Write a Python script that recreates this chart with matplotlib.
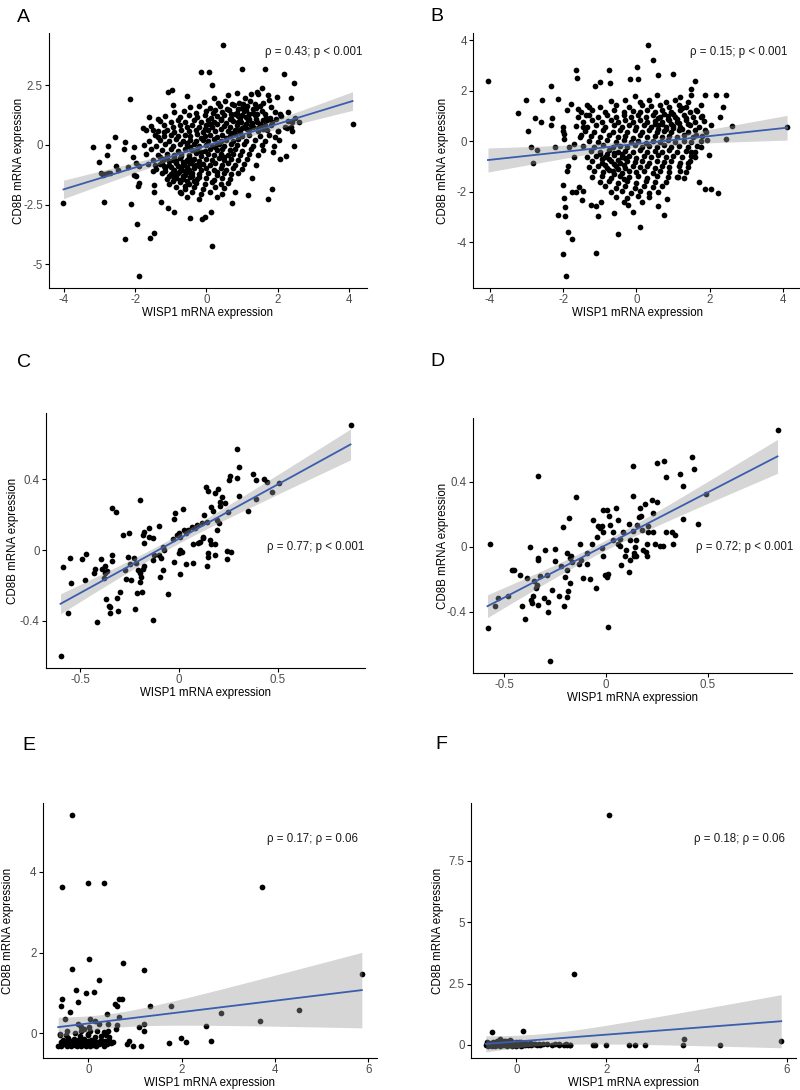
import matplotlib
matplotlib.use('Agg')
import matplotlib.pyplot as plt
import numpy as np

plt.rcParams['font.family'] = ['Liberation Sans', 'DejaVu Sans']
plt.rcParams['axes.unicode_minus'] = False

# ---- data (WISP1, CD8B) ----
a_pts = np.array([
    # outliers / edge
    (0.47, 4.21), (-0.16, 3.07), (0.07, 3.07), (1.0, 3.17), (1.64, 3.18), (2.19, 2.97),
    (2.46, 2.58), (0.15, 2.51), (-1.08, 2.23), (-0.97, 2.3), (-2.13, 1.91), (-0.93, 1.66),
    (2.38, 1.95), (1.97, 2.02), (1.74, 2.09), (1.55, 2.37), (1.41, 2.23), (4.1, 0.88),
    (2.61, 0.98), (2.46, -0.03), (2.23, -0.45), (2.06, -0.6), (1.88, -0.28), (1.9, -0.03),
    (1.85, -1.85), (1.74, -2.26), (1.17, -2.09), (1.28, -1.39), (0.72, -2.44), (0.8, -1.95),
    (0.12, -2.83), (-0.03, -3.0), (-0.12, -3.1), (-0.47, -3.07), (0.16, -4.25), (-0.91, -2.83),
    (-1.08, -2.65), (-1.27, -2.4), (-1.46, -1.98), (-1.46, -1.67), (-1.48, -3.67), (-1.58, -3.9),
    (-1.9, -1.6), (-1.92, -1.74), (-1.95, -3.31), (-2.11, -2.47), (-2.28, -3.95), (-1.9, -5.51),
    (-2.86, -2.37), (-4.01, -2.44), (-3.19, -0.07), (-3.0, -0.7), (-2.75, -0.03), (-2.79, -0.42),
    (-2.56, 0.32), (-2.28, 0.14), (-2.3, -0.17), (-2.54, -0.86), (-2.91, -1.26), (-2.77, -1.19),
    (-2.07, -0.49), (-2.02, -0.07), (-2.04, -1.26), (-1.98, -1.32), (-1.79, 0.7), (-1.62, 1.19),
    (-1.36, 1.09), (-1.5, 0.63), (-1.36, 0.35), (-1.2, 0.56), (2.38, 0.77), (2.4, 0.98),
    (2.49, 1.12), (2.3, 1.39), (2.07, 1.32), (2.25, 0.7), (1.92, 0.35), (2.02, 0.6),
    (-2.96, -1.19), (-2.85, -1.21), (-2.7, -1.18), (-2.49, -1.05), (-2.21, -0.91), (-1.97, -0.77),
    (-1.88, -0.86), (-1.65, -0.8),
    # dense core
    (-0.55, 2.05), (0.22, 1.97), (0.62, 2.08), (1.08, 1.95), (1.46, 2.12), (0.85, 2.2), (1.25, 2.15),
    (-0.08, 1.82), (0.33, 1.75), (0.52, 1.86), (0.92, 1.78), (1.22, 1.85), (1.6, 1.76), (0.72, 1.7),
    (1.75, 1.9),
    (-0.45, 1.58), (-0.2, 1.64), (0.1, 1.55), (0.38, 1.62), (0.58, 1.53), (0.77, 1.66), (1.0, 1.57),
    (1.15, 1.63), (1.38, 1.55), (1.82, 1.6), (0.25, 1.45),
    (-0.9, 1.38), (-0.62, 1.43), (-0.3, 1.35), (0.0, 1.42), (0.18, 1.33), (0.45, 1.4), (0.63, 1.45),
    (0.86, 1.36), (1.06, 1.41), (1.3, 1.34), (1.55, 1.44), (1.92, 1.37),
    (-1.15, 1.22), (-0.75, 1.16), (-0.5, 1.25), (-0.27, 1.18), (-0.05, 1.24), (0.14, 1.15), (0.31, 1.21),
    (0.5, 1.26), (0.7, 1.14), (0.88, 1.23), (1.1, 1.17), (1.36, 1.25), (1.66, 1.15), (2.1, 1.22),
    (0.4, 1.1),
    (-1.3, 1.02), (-1.0, 0.96), (-0.8, 1.05), (-0.6, 0.97), (-0.36, 1.03), (-0.16, 0.95), (0.05, 1.04),
    (0.22, 0.98), (0.4, 1.06), (0.56, 0.94), (0.76, 1.01), (0.96, 0.96), (1.16, 1.05), (1.42, 0.97),
    (1.7, 1.03), (2.3, 0.99), (0.66, 1.1),
    (-1.55, 0.78), (-1.2, 0.84), (-0.95, 0.76), (-0.75, 0.85), (-0.55, 0.77), (-0.4, 0.83), (-0.2, 0.75),
    (0.0, 0.82), (0.15, 0.77), (0.3, 0.86), (0.5, 0.79), (0.65, 0.74), (0.85, 0.83), (1.05, 0.76),
    (1.25, 0.84), (1.5, 0.78), (1.8, 0.82), (2.2, 0.76), (0.1, 0.9), (-0.05, 0.68),
    (-1.7, 0.62), (-1.35, 0.57), (-1.1, 0.63), (-0.9, 0.56), (-0.7, 0.64), (-0.5, 0.58), (-0.3, 0.62),
    (-0.1, 0.55), (0.05, 0.63), (0.25, 0.57), (0.4, 0.65), (0.6, 0.58), (0.8, 0.62), (0.95, 0.55),
    (1.2, 0.63), (1.45, 0.57), (1.7, 0.64), (2.0, 0.58), (2.4, 0.6), (0.7, 0.5),
    (-1.45, 0.42), (-1.2, 0.37), (-1.0, 0.44), (-0.8, 0.36), (-0.6, 0.43), (-0.45, 0.38), (-0.25, 0.45),
    (-0.05, 0.37), (0.1, 0.42), (0.3, 0.35), (0.45, 0.44), (0.65, 0.39), (0.8, 0.45), (1.0, 0.36),
    (1.2, 0.43), (1.5, 0.38), (1.75, 0.42), (-0.15, 0.3), (0.55, 0.3),
    (-1.6, 0.18), (-1.3, 0.23), (-1.05, 0.16), (-0.85, 0.24), (-0.65, 0.17), (-0.45, 0.22), (-0.3, 0.15),
    (-0.1, 0.23), (0.05, 0.17), (0.2, 0.24), (0.4, 0.16), (0.55, 0.22), (0.75, 0.18), (0.9, 0.25),
    (1.1, 0.16), (1.35, 0.21), (1.65, 0.17), (2.05, 0.22), (0.3, 0.1), (-0.55, 0.1),
    (-1.75, 0.02), (-1.4, -0.04), (-1.15, 0.04), (-0.95, -0.03), (-0.75, 0.05), (-0.55, -0.02),
    (-0.35, 0.03), (-0.2, -0.05), (0.0, 0.02), (0.15, -0.03), (0.35, 0.05), (0.5, -0.04), (0.7, 0.03),
    (0.85, -0.02), (1.05, 0.04), (1.3, -0.03), (1.55, 0.02), (0.25, -0.1), (-0.45, -0.1),
    (-1.55, -0.18), (-1.25, -0.23), (-1.0, -0.17), (-0.8, -0.24), (-0.6, -0.16), (-0.4, -0.22),
    (-0.25, -0.15), (-0.05, -0.24), (0.1, -0.17), (0.3, -0.22), (0.45, -0.15), (0.65, -0.23),
    (0.8, -0.18), (1.0, -0.24), (1.25, -0.16), (1.6, -0.21), (-0.15, -0.3),
    (-1.7, -0.38), (-1.35, -0.43), (-1.1, -0.36), (-0.9, -0.44), (-0.7, -0.37), (-0.5, -0.42),
    (-0.3, -0.35), (-0.15, -0.45), (0.05, -0.38), (0.2, -0.43), (0.4, -0.36), (0.6, -0.44),
    (0.75, -0.37), (0.95, -0.42), (1.2, -0.36), (1.45, -0.43), (0.5, -0.5),
    (-1.5, -0.62), (-1.2, -0.57), (-0.95, -0.64), (-0.75, -0.56), (-0.55, -0.63), (-0.35, -0.58),
    (-0.2, -0.65), (0.0, -0.57), (0.15, -0.63), (0.35, -0.56), (0.5, -0.64), (0.7, -0.58),
    (0.9, -0.62), (1.15, -0.57), (-0.65, -0.7),
    (-1.3, -0.78), (-1.05, -0.84), (-0.85, -0.77), (-0.65, -0.85), (-0.45, -0.76), (-0.3, -0.83),
    (-0.1, -0.78), (0.1, -0.85), (0.25, -0.77), (0.45, -0.82), (0.6, -0.76), (0.8, -0.84),
    (1.05, -0.78), (1.4, -0.83), (-0.2, -0.9),
    (-1.4, -1.02), (-1.15, -0.96), (-0.9, -1.04), (-0.7, -0.97), (-0.5, -1.05), (-0.35, -0.98),
    (-0.15, -1.03), (0.0, -0.96), (0.2, -1.04), (0.4, -0.97), (0.55, -1.05), (0.75, -0.98),
    (1.0, -1.02), (-0.6, -1.1), (0.3, -1.12),
    (-1.25, -1.18), (-1.0, -1.23), (-0.8, -1.17), (-0.6, -1.24), (-0.4, -1.16), (-0.2, -1.22),
    (0.05, -1.17), (0.3, -1.25), (0.5, -1.18), (0.7, -1.23), (0.9, -1.16), (-0.95, -1.32),
    (-1.1, -1.42), (-0.85, -1.37), (-0.65, -1.44), (-0.45, -1.36), (-0.25, -1.43), (0.0, -1.38),
    (0.2, -1.45), (0.45, -1.37), (0.65, -1.42), (-0.55, -1.52),
    (-1.05, -1.62), (-0.75, -1.57), (-0.5, -1.64), (-0.3, -1.58), (-0.05, -1.65), (0.15, -1.57),
    (0.4, -1.63), (0.6, -1.58),
    (-0.85, -1.78), (-0.6, -1.84), (-0.35, -1.77), (-0.1, -1.83), (0.25, -1.78), (0.5, -1.82),
    (-0.75, -1.95),
    (-0.7, -2.02), (-0.4, -1.97), (-0.15, -2.04), (0.1, -1.98), (0.45, -2.05),
    (-0.55, -2.2), (-0.2, -2.25), (0.3, -2.18),
    # denser upper-right / lower-left of the core
    (0.85, 0.65), (1.0, 0.72), (1.15, 0.68), (1.3, 0.75), (1.45, 0.7), (1.6, 0.68), (0.9, 0.95),
    (1.1, 0.88), (1.28, 0.92), (1.5, 0.9), (1.65, 0.85), (0.95, 1.12), (1.2, 1.08), (1.4, 1.1),
    (1.58, 1.05), (1.78, 1.12), (0.8, 1.3), (1.0, 1.27), (1.2, 1.32), (1.42, 1.28), (1.65, 1.3),
    (0.9, 1.5), (1.1, 1.48), (1.3, 1.5), (1.5, 1.62), (1.02, 1.7), (1.35, 1.72), (0.7, 1.28),
    (1.85, 0.95), (1.95, 1.1),
    (-1.3, -0.5), (-1.1, -0.52), (-0.9, -0.5), (-0.7, -0.48), (-0.5, -0.5), (-1.25, -0.7),
    (-1.05, -0.68), (-0.85, -0.66), (-0.6, -0.72), (-0.4, -0.68), (-1.2, -0.9), (-1.0, -0.92),
    (-0.8, -0.88), (-0.55, -0.93), (-0.35, -0.88), (-1.15, -1.1), (-0.95, -1.12), (-0.75, -1.08),
    (-0.5, -1.13), (-1.05, -1.3), (-0.85, -1.28), (-0.65, -1.3), (-0.4, -1.3), (-0.95, -1.5),
    (-0.75, -1.48), (-0.35, -1.5), (-0.6, -1.7), (-1.45, -0.85), (-1.5, -1.1), (-0.2, -1.35),
])

b_pts = np.array([
    # outliers / edge
    (-4.05, 2.39), (0.33, 3.83), (0.46, 3.21), (0.02, 2.95), (0.05, 2.48), (-0.17, 2.45),
    (0.6, 2.62), (0.99, 2.66), (-0.74, 2.84), (-0.72, 2.29), (-0.99, 2.35), (-1.13, 2.18),
    (-1.65, 2.81), (-1.63, 2.52), (-2.32, 2.18), (-2.15, 1.67), (-2.58, 1.63), (-3.02, 1.63),
    (-3.22, 1.13), (-2.95, 0.4), (-2.77, 0.94), (-2.61, 0.75), (-2.31, 0.93), (-2.33, 0.64),
    (-2.01, 0.57), (-2.0, 0.4), (-2.88, -0.22), (-2.7, -0.35), (-2.81, -0.85), (-2.22, -0.22),
    (-1.9, -1.16), (-1.99, -1.74), (-1.97, -2.23), (-1.95, -2.59), (-1.95, -2.94), (-2.15, -2.92),
    (-2.01, -4.47), (-1.92, -5.35), (-1.86, -3.6), (-1.76, -3.85), (-1.77, -2.0), (-1.65, -2.0),
    (-1.56, -1.8), (-1.47, -1.97), (-1.49, -2.32), (-1.24, -2.52), (-1.1, -2.56), (-1.06, -2.96),
    (-1.1, -4.41), (-0.97, -2.39), (-0.51, -3.67), (-0.6, -2.85), (-0.1, -2.81), (-0.24, -2.52),
    (0.09, -3.4), (0.6, -2.55), (0.74, -2.92), (0.83, -2.3), (1.71, -1.6), (1.86, -1.9),
    (2.04, -1.9), (2.22, -2.03), (1.99, -0.55), (4.11, 0.55), (2.61, 0.6), (2.45, 0.11),
    (2.45, 1.83), (2.17, 1.83), (1.88, 1.83), (1.61, 2.38), (1.49, 2.09), (2.36, 1.36),
    (2.29, 0.97), (2.04, 0.64), (1.63, 1.23), (1.77, 0.97), (1.86, 0.44), (1.93, 0.05),
    (1.77, -0.22), (1.59, -0.61), (1.4, -0.87), (1.36, -1.2), (1.13, -1.4), (1.31, -1.46),
    (1.63, 0.25), (1.49, -0.42), (-1.97, 0.28), (-1.98, 0.08), (-1.83, -0.22), (-1.7, -0.09),
    (-1.51, 0.26), (-1.47, 0.57), (-1.38, 1.04), (-1.29, 1.36), (-1.78, 1.48), (-1.6, 1.29),
    (-1.9, 1.23), (-1.87, -0.98), (-1.7, -0.61),
    # dense core
    (-0.05, 1.78), (0.55, 1.82), (1.2, 1.76), (1.5, 1.85),
    (-0.7, 1.58), (-0.3, 1.63), (0.1, 1.55), (0.35, 1.65), (0.8, 1.57), (1.05, 1.62), (1.4, 1.55),
    (-1.35, 1.42), (-1.0, 1.37), (-0.55, 1.44), (-0.2, 1.36), (0.15, 1.43), (0.4, 1.38), (0.65, 1.45),
    (0.9, 1.36), (1.15, 1.42), (1.35, 1.37), (1.75, 1.43),
    (-1.5, 1.18), (-1.2, 1.23), (-0.85, 1.16), (-0.6, 1.24), (-0.35, 1.17), (-0.1, 1.22), (0.1, 1.15),
    (0.3, 1.24), (0.5, 1.18), (0.7, 1.23), (0.95, 1.16), (1.2, 1.24), (1.45, 1.17), (1.65, 1.22),
    (-1.6, 0.98), (-1.3, 1.03), (-1.05, 0.96), (-0.8, 1.04), (-0.55, 0.97), (-0.35, 1.05), (-0.15, 0.95),
    (0.05, 1.03), (0.25, 0.97), (0.45, 1.04), (0.65, 0.96), (0.85, 1.02), (1.05, 0.95), (1.3, 1.04),
    (1.55, 0.97), (1.8, 1.02),
    (-1.45, 0.78), (-1.2, 0.84), (-0.95, 0.77), (-0.7, 0.85), (-0.5, 0.76), (-0.3, 0.83), (-0.1, 0.77),
    (0.1, 0.84), (0.3, 0.76), (0.5, 0.82), (0.7, 0.78), (0.9, 0.85), (1.1, 0.77), (1.35, 0.83),
    (1.6, 0.76), (1.85, 0.82),
    (-1.65, 0.62), (-1.35, 0.57), (-1.1, 0.64), (-0.85, 0.56), (-0.6, 0.63), (-0.4, 0.58), (-0.2, 0.64),
    (0.0, 0.56), (0.2, 0.63), (0.4, 0.57), (0.6, 0.65), (0.8, 0.58), (1.0, 0.62), (1.2, 0.56),
    (1.45, 0.63), (1.7, 0.57), (0.5, 0.7),
    (-1.4, 0.42), (-1.15, 0.36), (-0.9, 0.44), (-0.65, 0.37), (-0.45, 0.43), (-0.25, 0.36), (-0.05, 0.45),
    (0.15, 0.38), (0.35, 0.44), (0.55, 0.36), (0.75, 0.42), (0.95, 0.37), (1.15, 0.45), (1.4, 0.38),
    (1.6, 0.43), (1.9, 0.37),
    (-1.55, 0.18), (-1.25, 0.23), (-1.0, 0.16), (-0.75, 0.24), (-0.5, 0.17), (-0.3, 0.22), (-0.1, 0.15),
    (0.1, 0.24), (0.3, 0.17), (0.5, 0.23), (0.7, 0.16), (0.9, 0.22), (1.1, 0.18), (1.3, 0.25),
    (1.55, 0.17), (1.8, 0.22),
    (-1.3, 0.03), (-1.05, -0.04), (-0.8, 0.04), (-0.55, -0.03), (-0.35, 0.05), (-0.15, -0.02),
    (0.05, 0.03), (0.25, -0.05), (0.45, 0.02), (0.65, -0.03), (0.85, 0.04), (1.05, -0.02),
    (1.3, 0.03), (1.5, -0.04), (1.75, 0.02),
    (-1.45, -0.18), (-1.15, -0.23), (-0.9, -0.16), (-0.65, -0.24), (-0.45, -0.17), (-0.25, -0.22),
    (-0.05, -0.15), (0.15, -0.24), (0.35, -0.17), (0.55, -0.23), (0.75, -0.16), (0.95, -0.22),
    (1.15, -0.18), (1.4, -0.24), (1.65, -0.17),
    (-1.25, -0.38), (-1.0, -0.43), (-0.75, -0.36), (-0.5, -0.44), (-0.3, -0.37), (-0.1, -0.42),
    (0.1, -0.35), (0.3, -0.44), (0.5, -0.37), (0.7, -0.43), (0.9, -0.36), (1.1, -0.42),
    (1.35, -0.37), (1.6, -0.44),
    (-1.35, -0.62), (-1.1, -0.57), (-0.85, -0.64), (-0.6, -0.56), (-0.4, -0.63), (-0.2, -0.58),
    (0.0, -0.65), (0.2, -0.57), (0.4, -0.63), (0.6, -0.56), (0.8, -0.64), (1.0, -0.58),
    (1.25, -0.62), (1.5, -0.57),
    (-1.2, -0.78), (-0.95, -0.84), (-0.7, -0.77), (-0.45, -0.85), (-0.25, -0.76), (-0.05, -0.83),
    (0.15, -0.77), (0.35, -0.84), (0.55, -0.76), (0.75, -0.82), (0.95, -0.78), (1.2, -0.85),
    (1.45, -0.77),
    (-1.3, -1.02), (-1.05, -0.96), (-0.8, -1.04), (-0.55, -0.97), (-0.3, -1.05), (-0.1, -0.98),
    (0.1, -1.03), (0.3, -0.96), (0.5, -1.04), (0.7, -0.97), (0.9, -1.03), (1.15, -0.96), (1.4, -1.02),
    (-1.15, -1.18), (-0.9, -1.23), (-0.65, -1.17), (-0.4, -1.24), (-0.2, -1.16), (0.0, -1.22),
    (0.2, -1.17), (0.45, -1.24), (0.65, -1.18), (0.9, -1.23), (1.2, -1.16),
    (-1.2, -1.42), (-0.95, -1.37), (-0.7, -1.44), (-0.45, -1.36), (-0.2, -1.43), (0.05, -1.38),
    (0.3, -1.45), (0.55, -1.37), (0.85, -1.42), (1.1, -1.4),
    (-1.0, -1.62), (-0.75, -1.57), (-0.5, -1.64), (-0.25, -1.58), (0.0, -1.65), (0.25, -1.57),
    (0.5, -1.63), (0.8, -1.6),
    (-0.85, -1.78), (-0.55, -1.84), (-0.3, -1.77), (-0.05, -1.83), (0.2, -1.78), (0.45, -1.82),
    (0.7, -1.78),
    (-0.7, -2.02), (-0.4, -1.97), (-0.15, -2.04), (0.1, -1.98), (0.35, -2.05), (0.6, -2.0),
    (-0.55, -2.2), (-0.25, -2.25), (0.05, -2.18), (0.35, -2.22),
    (-0.35, -2.4), (0.15, -2.42),
    # denser upper-right / lower-left of the core
    (0.6, 0.5), (0.8, 0.48), (1.0, 0.52), (1.25, 0.5), (0.7, 0.7), (0.95, 0.68), (1.15, 0.72),
    (1.4, 0.7), (0.6, 0.92), (0.85, 0.9), (1.1, 0.88), (1.35, 0.92), (0.75, 1.1), (1.0, 1.08),
    (1.25, 1.3),
    (-1.0, -0.5), (-0.8, -0.52), (-0.6, -0.48), (-0.4, -0.5), (-0.95, -0.72), (-0.75, -0.7),
    (-0.5, -0.73), (-0.3, -0.68), (-0.85, -0.92), (-0.6, -0.9), (-0.35, -0.93), (-0.75, -1.12),
    (-0.5, -1.1), (-0.6, -1.3), (-0.35, -1.5),
])

c_pts = np.array([
    (0.867, 0.708), (0.291, 0.573), (0.305, 0.466), (0.295, 0.407), (0.258, 0.417), (0.254, 0.394),
    (0.305, 0.304), (0.375, 0.428), (0.389, 0.394), (0.431, 0.4), (0.443, 0.385), (0.468, 0.325),
    (0.507, 0.376), (0.389, 0.287), (0.35, 0.222), (0.136, 0.357), (0.148, 0.334), (0.182, 0.323),
    (0.199, 0.342), (0.215, 0.3), (0.207, 0.272), (0.234, 0.263), (0.249, 0.216), (0.207, 0.248),
    (0.16, 0.244), (0.173, 0.222), (0.126, 0.197), (0.14, 0.16), (0.114, 0.15), (0.093, 0.141),
    (0.081, 0.122), (0.064, 0.131), (0.047, 0.113), (0.025, 0.116), (0.019, 0.229), (-0.02, 0.207),
    (-0.024, 0.173), (-0.012, 0.085), (-0.029, 0.06), (-0.003, 0.094), (0.005, 0.075), (0.035, 0.094),
    (0.19, 0.169), (0.204, 0.154), (0.19, 0.116), (0.123, 0.066), (0.106, 0.047), (0.12, 0.075),
    (0.098, 0.038), (0.157, 0.056), (0.16, 0.034), (0.182, 0.034), (0.148, -0.019), (0.148, -0.041),
    (0.143, -0.09), (0.182, -0.028), (0.241, -0.004), (0.263, -0.013), (0.241, -0.053), (0.069, 0.034),
    (0.072, -0.075), (0.034, -0.079), (0.005, 0.0), (-0.003, -0.019), (0.013, -0.013), (0.005, -0.135),
    (-0.024, -0.066), (-0.054, -0.25), (-0.084, -0.113), (-0.093, -0.047), (-0.076, 0.0), (-0.079, 0.015),
    (-0.104, -0.028), (-0.104, 0.137), (-0.13, 0.069), (-0.13, -0.056), (-0.126, -0.028), (-0.15, 0.075),
    (-0.15, 0.122), (-0.13, -0.394), (-0.096, -0.15), (-0.18, 0.103), (-0.183, 0.085), (-0.197, 0.282),
    (-0.177, 0.038), (-0.177, -0.09), (-0.183, -0.109), (-0.197, -0.131), (-0.192, -0.154),
    (-0.189, -0.235), (-0.2, -0.178), (-0.21, -0.113), (-0.217, -0.071), (-0.228, -0.047),
    (-0.247, -0.079), (-0.222, -0.334), (-0.214, -0.244), (-0.254, 0.094), (-0.283, 0.085),
    (-0.259, -0.041), (-0.276, -0.113), (-0.271, -0.165), (-0.242, -0.169), (-0.298, -0.235),
    (-0.315, -0.272), (-0.31, -0.342), (-0.34, 0.24), (-0.338, -0.028), (-0.338, -0.06),
    (-0.348, -0.319), (-0.348, -0.353), (-0.357, -0.316), (-0.369, -0.278), (-0.374, -0.131),
    (-0.365, -0.116), (-0.391, -0.109), (-0.374, -0.09), (-0.382, -0.156), (-0.396, -0.049),
    (-0.416, -0.404), (-0.424, -0.109), (-0.429, -0.131), (-0.47, -0.024), (-0.492, -0.053),
    (-0.475, -0.169), (-0.554, -0.047), (-0.545, -0.188), (-0.588, -0.094), (-0.564, -0.357),
    (-0.318, 0.216), (-0.6, -0.6),
])

d_pts = np.array([
    (0.842, 0.72), (0.42, 0.552), (0.431, 0.478), (0.363, 0.447), (0.379, 0.371), (0.286, 0.529),
    (0.248, 0.515), (0.294, 0.427), (0.131, 0.494), (0.49, 0.326), (0.453, 0.142), (0.376, 0.172),
    (0.338, 0.074), (0.294, 0.088), (0.281, 0.006), (0.24, 0.016), (0.232, 0.088), (0.208, 0.088),
    (0.199, 0.018), (0.196, -0.035), (0.18, -0.023), (0.232, 0.207), (0.248, 0.273), (0.227, 0.289),
    (0.191, 0.265), (0.167, 0.238), (0.17, 0.191), (0.163, 0.183), (0.175, 0.105), (0.154, 0.135),
    (0.131, 0.31), (0.114, 0.142), (0.134, 0.094), (0.147, 0.043), (0.142, -0.002), (0.139, -0.039),
    (0.139, -0.059), (0.118, -0.08), (0.147, -0.055), (0.118, 0.039), (0.098, -0.018), (0.114, -0.158),
    (0.085, 0.088), (0.06, 0.166), (0.049, 0.238), (0.069, 0.002), (0.069, 0.047), (0.06, 0.018),
    (0.036, 0.088), (0.036, 0.043), (0.072, -0.111), (0.093, -0.059), (0.003, 0.228), (0.016, 0.191),
    (0.02, 0.135), (-0.016, 0.224), (-0.021, 0.125), (-0.013, 0.088), (-0.029, 0.115), (-0.038, 0.125),
    (-0.046, 0.059), (-0.021, -0.008), (-0.016, -0.059), (0.011, -0.166), (-0.005, -0.172),
    (0.003, -0.187), (0.008, -0.494), (-0.049, -0.254), (-0.065, 0.166), (-0.067, 0.018),
    (-0.078, -0.199), (-0.092, -0.105), (-0.092, -0.039), (-0.111, -0.193), (-0.124, -0.08),
    (-0.131, -0.105), (-0.127, 0.018), (-0.147, 0.306), (-0.18, 0.176), (-0.176, -0.07),
    (-0.173, -0.059), (-0.168, -0.096), (-0.176, -0.224), (-0.193, -0.039), (-0.19, -0.142),
    (-0.185, -0.275), (-0.193, -0.31), (-0.201, -0.187), (-0.204, -0.367), (-0.212, 0.119),
    (-0.222, -0.117), (-0.229, -0.302), (-0.25, -0.09), (-0.253, -0.014), (-0.263, -0.269),
    (-0.283, -0.343), (-0.291, -0.172), (-0.299, -0.018), (-0.307, -0.316), (-0.324, -0.183),
    (-0.332, -0.357), (-0.335, -0.084), (-0.332, -0.07), (-0.332, 0.437), (-0.337, -0.234),
    (-0.343, -0.254), (-0.356, -0.213), (-0.359, -0.306), (-0.364, -0.347), (-0.369, -0.326),
    (-0.373, -0.002), (-0.386, -0.193), (-0.397, -0.445), (-0.413, -0.367), (-0.422, -0.172),
    (-0.454, -0.146), (-0.462, -0.142), (-0.479, -0.302), (-0.528, -0.316), (-0.544, -0.367),
    (-0.572, 0.016), (-0.582, -0.501), (-0.286, -0.404), (0.208, 0.125), (0.265, 0.002),
    (0.322, 0.088), (0.33, 0.018), (0.199, -0.059), (-0.276, -0.706),
])

e_pts = np.array([
    (-0.35, 5.41), (-0.57, 3.61), (-0.01, 3.73), (0.34, 3.71), (3.72, 3.63), (5.86, 1.48),
    (4.51, 0.57), (3.68, 0.31), (2.84, 0.5), (2.52, 0.18), (2.62, -0.19), (2.09, -0.22),
    (1.99, -0.11), (1.73, -0.24), (1.76, 0.69), (1.31, 0.69), (1.18, 1.56), (1.2, 0.24),
    (1.19, 0.06), (1.08, 0.17), (1.12, -0.3), (0.96, -0.3), (0.87, -0.19), (0.82, -0.27),
    (0.75, 1.75), (0.72, 0.86), (0.65, 0.86), (0.62, 0.69), (0.57, 0.74), (0.65, 0.41),
    (0.62, 0.2), (0.58, 0.12), (0.4, 0.47), (0.42, 0.24), (0.42, 0.06), (0.22, 1.32),
    (0.02, 1.85), (0.11, 1.03), (-0.06, 1.01), (0.15, 0.32), (0.22, 0.24), (0.04, 0.36),
    (0.01, 0.16), (-0.23, 0.24), (-0.23, 0.78), (-0.26, 1.07), (-0.35, 1.6), (-0.39, 0.53),
    (-0.51, 0.36), (-0.6, 0.67), (-0.57, 0.84), (-0.46, 0.06), (-0.62, -0.01), (-0.17, 0.16),
    (-0.17, 0.07), (-0.1, 0.12), (-0.01, -0.01), (0.04, 0.07), (0.19, 0.07), (0.33, 0.03),
    (0.37, -0.05),
    (-0.65, -0.3), (-0.6, -0.22), (-0.58, -0.32), (-0.55, -0.15), (-0.52, -0.27), (-0.5, -0.2),
    (-0.47, -0.31), (-0.45, -0.12), (-0.42, -0.25), (-0.4, -0.18), (-0.37, -0.3), (-0.35, -0.22),
    (-0.32, -0.14), (-0.3, -0.28), (-0.27, -0.2), (-0.25, -0.31), (-0.22, -0.16), (-0.2, -0.25),
    (-0.17, -0.3), (-0.15, -0.19), (-0.12, -0.27), (-0.1, -0.14), (-0.07, -0.22), (-0.05, -0.3),
    (-0.02, -0.18), (0.0, -0.26), (0.03, -0.31), (0.05, -0.15), (0.08, -0.23), (0.1, -0.29),
    (0.12, -0.18), (0.15, -0.25), (0.17, -0.31), (0.2, -0.2), (0.23, -0.27), (0.26, -0.16),
    (0.3, -0.24), (0.33, -0.3), (0.36, -0.19), (0.4, -0.26), (0.44, -0.17), (0.48, -0.23),
    (0.52, -0.2), (-0.62, -0.05), (-0.48, -0.05), (-0.3, 0.0), (-0.18, -0.06), (0.0, -0.04),
    (0.14, -0.08), (0.27, -0.06), (0.45, -0.08),
])

f_pts = np.array([
    (2.06, 9.38), (1.29, 2.88), (-0.55, 0.53), (0.14, 0.57), (-0.37, 0.25), (-0.15, 0.21),
    (5.88, 0.15), (3.72, 0.25), (3.69, 0.01), (4.51, 0.01), (2.85, 0.01), (2.63, 0.01),
    (2.51, 0.01), (1.99, 0.01), (1.75, 0.01), (1.7, -0.01), (1.19, 0.01), (1.12, 0.01),
    (1.05, 0.0), (0.94, 0.02), (0.86, 0.03), (0.79, 0.0), (0.68, 0.02), (0.6, 0.04),
    (0.53, 0.0), (0.42, 0.02), (0.35, 0.05), (0.95, 0.0), (1.1, 0.03), (1.2, 0.0),
    (-0.68, 0.0), (-0.65, 0.05), (-0.63, -0.05), (-0.6, 0.08), (-0.58, 0.0), (-0.55, -0.06),
    (-0.52, 0.1), (-0.5, 0.02), (-0.47, -0.04), (-0.45, 0.06), (-0.42, 0.0), (-0.4, 0.12),
    (-0.37, -0.05), (-0.35, 0.04), (-0.32, 0.09), (-0.3, -0.02), (-0.27, 0.05), (-0.25, 0.0),
    (-0.22, 0.14), (-0.2, -0.04), (-0.17, 0.06), (-0.15, 0.01), (-0.12, 0.1), (-0.1, -0.03),
    (-0.07, 0.04), (-0.05, 0.0), (-0.02, 0.08), (0.0, -0.05), (0.03, 0.03), (0.05, 0.1),
    (0.08, 0.0), (0.1, -0.03), (0.12, 0.05), (0.15, 0.0), (0.18, 0.08), (0.2, -0.02),
    (0.23, 0.03), (0.26, 0.0), (0.3, 0.06), (0.33, -0.02), (0.38, 0.02), (0.45, 0.0),
    (0.5, 0.03), (-0.6, -0.02), (-0.44, 0.15), (-0.28, 0.17), (-0.13, 0.16), (-0.66, 0.12),
    (0.0, 0.12), (0.1, 0.1),
])

labels = ['A', 'B', 'C', 'D', 'E', 'F']
stats = ['ρ = 0.43; p < 0.001', 'ρ = 0.15; p < 0.001', 'ρ = 0.77; p < 0.001',
         'ρ = 0.72; p < 0.001', 'ρ = 0.17; ρ = 0.06', 'ρ = 0.18; ρ = 0.06']
x_ticks = [[-4, -2, 0, 2, 4], [-4, -2, 0, 2, 4], [-0.5, 0, 0.5], [-0.5, 0, 0.5],
           [0, 2, 4, 6], [0, 2, 4, 6]]
y_ticks = [[-5, -2.5, 0, 2.5], [-4, -2, 0, 2, 4], [-0.4, 0, 0.4], [-0.4, 0, 0.4],
           [0, 2, 4], [0, 2.5, 5, 7.5]]
all_pts = [a_pts, b_pts, c_pts, d_pts, e_pts, f_pts]

# layout in pixels: left, top, width, height / letter pos / stat text pos (axes frac) / ylabel x
W, H = 800, 1090
boxes = [(49, 33, 318, 255), (473, 33, 329, 255), (46, 413, 319, 255),
         (473, 418, 319, 255), (43, 803, 334, 255), (471, 803, 325, 255)]
letter_pos = [(17, 22), (430, 21), (17, 367), (430, 366), (22, 750), (435, 749)]
stat_pos = [(0.987, 0.925), (0.957, 0.925), (0.997, 0.475), (1.005, 0.494),
            (0.943, 0.859), (0.966, 0.859)]
ylab_x = [-0.077, -0.074, -0.086, -0.074, -0.088, -0.082]


def fit_band(x, y):
    n = len(x)
    b, a = np.polyfit(x, y, 1)
    xs = np.linspace(x.min(), x.max(), 100)
    yhat = a + b * xs
    resid = y - (a + b * x)
    s = np.sqrt(np.sum(resid ** 2) / (n - 2))
    sxx = np.sum((x - x.mean()) ** 2)
    se = s * np.sqrt(1.0 / n + (xs - x.mean()) ** 2 / sxx)
    return xs, yhat, yhat - 1.97 * se, yhat + 1.97 * se


fig = plt.figure(figsize=(8, 10.9), dpi=100)

for i in range(6):
    l, t, w, h = boxes[i]
    ax = fig.add_axes([l / W, 1 - (t + h) / H, w / W, h / H])
    x, y = all_pts[i][:, 0], all_pts[i][:, 1]

    ax.scatter(x, y, s=17, color='black', linewidths=0, zorder=2)
    xs, yhat, lo, hi = fit_band(x, y)
    ax.fill_between(xs, lo, hi, color='#999999', alpha=0.4, linewidth=0, zorder=3)
    ax.plot(xs, yhat, color='#3A5DAE', lw=1.3, zorder=4)

    # ggplot style 5% expansion
    xr = x.max() - x.min()
    yr = y.max() - y.min()
    ax.set_xlim(x.min() - 0.05 * xr, x.max() + 0.05 * xr)
    ax.set_ylim(y.min() - 0.05 * yr, y.max() + 0.05 * yr)

    ax.set_xticks(x_ticks[i])
    ax.set_xticklabels([f'{v:g}' for v in x_ticks[i]])
    ax.set_yticks(y_ticks[i])
    ax.set_yticklabels([f'{v:g}' for v in y_ticks[i]])

    for sp in ['top', 'right']:
        ax.spines[sp].set_visible(False)
    for sp in ['left', 'bottom']:
        ax.spines[sp].set_linewidth(0.8)
    ax.tick_params(direction='out', length=3, width=0.8, color='black',
                   labelcolor='#4D4D4D', labelsize=8.3, pad=1.5)

    ax.set_xlabel('WISP1 mRNA expression', fontsize=8.3)
    ax.set_ylabel('CD8B mRNA expression', fontsize=8.3)
    ax.xaxis.set_label_coords(0.5, -0.075)
    ax.yaxis.set_label_coords(ylab_x[i], 0.5)

    ax.text(stat_pos[i][0], stat_pos[i][1], stats[i], transform=ax.transAxes,
            ha='right', va='center', fontsize=8.3, color='#1A1A1A')

    fig.text(letter_pos[i][0] / W, 1 - letter_pos[i][1] / H, labels[i],
             fontsize=14, ha='left', va='baseline')

fig.savefig('out.png', dpi=100)
plt.close(fig)
